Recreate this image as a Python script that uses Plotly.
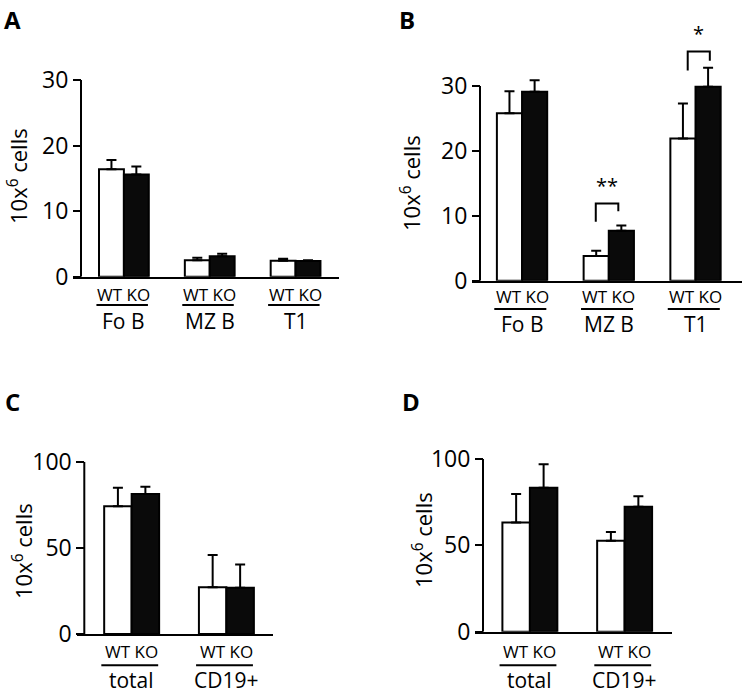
import plotly.graph_objects as go

W, H = 744, 695
FONT = "Open Sans"

# ---------------- data ----------------
cats_AB = ["Fo B", "MZ B", "T1"]
cats_CD = ["total", "CD19+"]

A_wt = [16.4, 2.5, 2.45]
A_wt_err = [1.4, 0.4, 0.3]
A_ko = [15.6, 3.1, 2.4]
A_ko_err = [1.2, 0.4, 0.1]

B_wt = [25.8, 3.8, 21.9]
B_wt_err = [3.4, 0.8, 5.4]
B_ko = [29.1, 7.7, 29.9]
B_ko_err = [1.8, 0.8, 2.9]

C_wt = [74.2, 27.1]
C_wt_err = [10.7, 18.7]
C_ko = [81.2, 26.9]
C_ko_err = [4.2, 13.5]

D_wt = [63.2, 52.6]
D_wt_err = [16.6, 5.2]
D_ko = [83.3, 72.4]
D_ko_err = [13.7, 6.0]

ticks_AB = [0, 10, 20, 30]
ticks_CD = [0, 50, 100]


def px(x):
    return x / W


def py(y):
    return 1 - y / H


fig = go.Figure()

# name, cats, wt, wterr, ko, koerr, xdomain(px), y0 px, px per unit, ymax, yaxis x px, xrange, axis-top value, ticks
panels = [
    ("1", cats_AB, A_wt, A_wt_err, A_ko, A_ko_err, (73, 339), 276.7, 65.57 / 10, 30, 81, [-0.593, 2.506], 30, ticks_AB),
    ("2", cats_AB, B_wt, B_wt_err, B_ko, B_ko_err, (472, 742), 280.7, 64.9 / 10, 36, 480, [-0.577, 2.536], 30, ticks_AB),
    ("3", cats_CD, C_wt, C_wt_err, C_ko, C_ko_err, (76.7, 273.3), 634, 172.3 / 100, 100, 84.3, [-0.58, 1.495], 100, ticks_CD),
    ("4", cats_CD, D_wt, D_wt_err, D_ko, D_ko_err, (475.3, 672), 631.7, 172.7 / 100, 100, 483, [-0.576, 1.5], 100, ticks_CD),
]

layout_axes = {}
shapes = []
for (n, cats, wt, wte, ko, koe, xd, y0, ppu, ymax, ypos, xr, ytop, tv) in panels:
    xa = "x" if n == "1" else "x" + n
    ya = "y" if n == "1" else "y" + n
    for name, vals, errs, fill in (("WT", wt, wte, "white"), ("KO", ko, koe, "#0a0a0a")):
        fig.add_trace(go.Bar(
            x=cats, y=vals, name=name, xaxis=xa, yaxis=ya,
            marker=dict(color=fill, line=dict(color="black", width=2)),
            error_y=dict(type="data", array=errs, arrayminus=[0] * len(errs),
                         symmetric=False, color="black", thickness=2, width=5),
            cliponaxis=False, showlegend=False, offsetgroup=name,
        ))
    key = "" if n == "1" else n
    layout_axes["xaxis" + key] = dict(
        domain=[px(xd[0]), px(xd[1])], range=xr, anchor=ya,
        showline=True, linecolor="black", linewidth=2, ticks="",
        showticklabels=False, showgrid=False, zeroline=False, fixedrange=True,
        automargin=False,
    )
    layout_axes["yaxis" + key] = dict(
        domain=[py(y0), py(y0 - ymax * ppu)], range=[0, ymax], anchor="free", position=px(ypos),
        showline=False, ticks="outside",
        ticklen=8, tickwidth=2, tickcolor="black", tickvals=tv,
        tickfont=dict(family=FONT, size=23, color="black"),
        showgrid=False, zeroline=False, fixedrange=True, automargin=False,
    )
    # y axis line stopping at the top tick
    shapes.append(dict(type="line", xref="paper", yref=ya, x0=px(ypos), x1=px(ypos),
                       y0=0, y1=ytop, line=dict(color="black", width=2)))

fig.update_layout(**layout_axes)

annotations = []

# x-axis labels (WT KO, underline, group name)
label_rows = [
    ("x", cats_AB, 294, 305, 321),
    ("x2", cats_AB, 296.7, 309, 324),
    ("x3", cats_CD, 651.7, 665.3, 680),
    ("x4", cats_CD, 651.7, 665.3, 680),
]
for xa, cats, y_wk, y_ul, y_grp in label_rows:
    for i, c in enumerate(cats):
        annotations.append(dict(x=i, y=py(y_wk), xref=xa, yref="paper", text="WT KO",
                                showarrow=False, xanchor="center", yanchor="middle",
                                font=dict(family=FONT, size=17, color="black")))
        annotations.append(dict(x=i, y=py(y_grp), xref=xa, yref="paper", text=c,
                                showarrow=False, xanchor="center", yanchor="middle",
                                font=dict(family=FONT, size=21, color="black")))
        shapes.append(dict(type="line", xref=xa, yref="paper", x0=i - 0.32, x1=i + 0.28,
                           y0=py(y_ul), y1=py(y_ul), line=dict(color="black", width=2)))

# y titles
for x_c, y_c in ((17, 176), (410, 183), (22, 551), (422, 540)):
    annotations.append(dict(x=px(x_c), y=py(y_c), xref="paper", yref="paper",
                            text="10x<sup>6</sup> cells", textangle=-90, showarrow=False,
                            xanchor="center", yanchor="middle",
                            font=dict(family=FONT, size=22, color="black")))

# panel letters
for letter, x_c, y_c in (("A", 13, 19), ("B", 407, 19), ("C", 13, 401), ("D", 411, 401)):
    annotations.append(dict(x=px(x_c), y=py(y_c), xref="paper", yref="paper", text="<b>%s</b>" % letter,
                            showarrow=False, xanchor="center", yanchor="middle",
                            font=dict(family=FONT, size=24, color="black")))


# significance brackets in panel B (same scale as the B axis: 0 -> 280.7px, 6.49px per unit)
def b_y(v):
    return py(280.7 - v * 6.49)


brackets = [
    (1, -0.15, 0.11, 11.9, 9.1, 10.7, "**"),
    (2, -0.09, 0.165, 35.3, 32.4, 33.9, "*"),
]
for ci, lo, ro, top, lb, rb, txt in brackets:
    shapes.append(dict(type="path", xref="x2", yref="paper",
                       path="M %f,%f L %f,%f L %f,%f L %f,%f" % (
                           ci + lo, b_y(lb), ci + lo, b_y(top), ci + ro, b_y(top), ci + ro, b_y(rb)),
                       line=dict(color="black", width=2)))
    annotations.append(dict(x=ci + (lo + ro) / 2, y=b_y(top) + 0.004, xref="x2", yref="paper",
                            text=txt, showarrow=False, xanchor="center", yanchor="bottom",
                            font=dict(family=FONT, size=20, color="black")))

fig.update_layout(
    width=W, height=H, margin=dict(l=0, r=0, t=0, b=0, autoexpand=False),
    paper_bgcolor="white", plot_bgcolor="white",
    barmode="group", bargap=0.42, bargroupgap=0,
    annotations=annotations, shapes=shapes, showlegend=False,
)

fig.write_html("out.html", config={"displayModeBar": False},
               post_script="document.body.style.margin='0';")
